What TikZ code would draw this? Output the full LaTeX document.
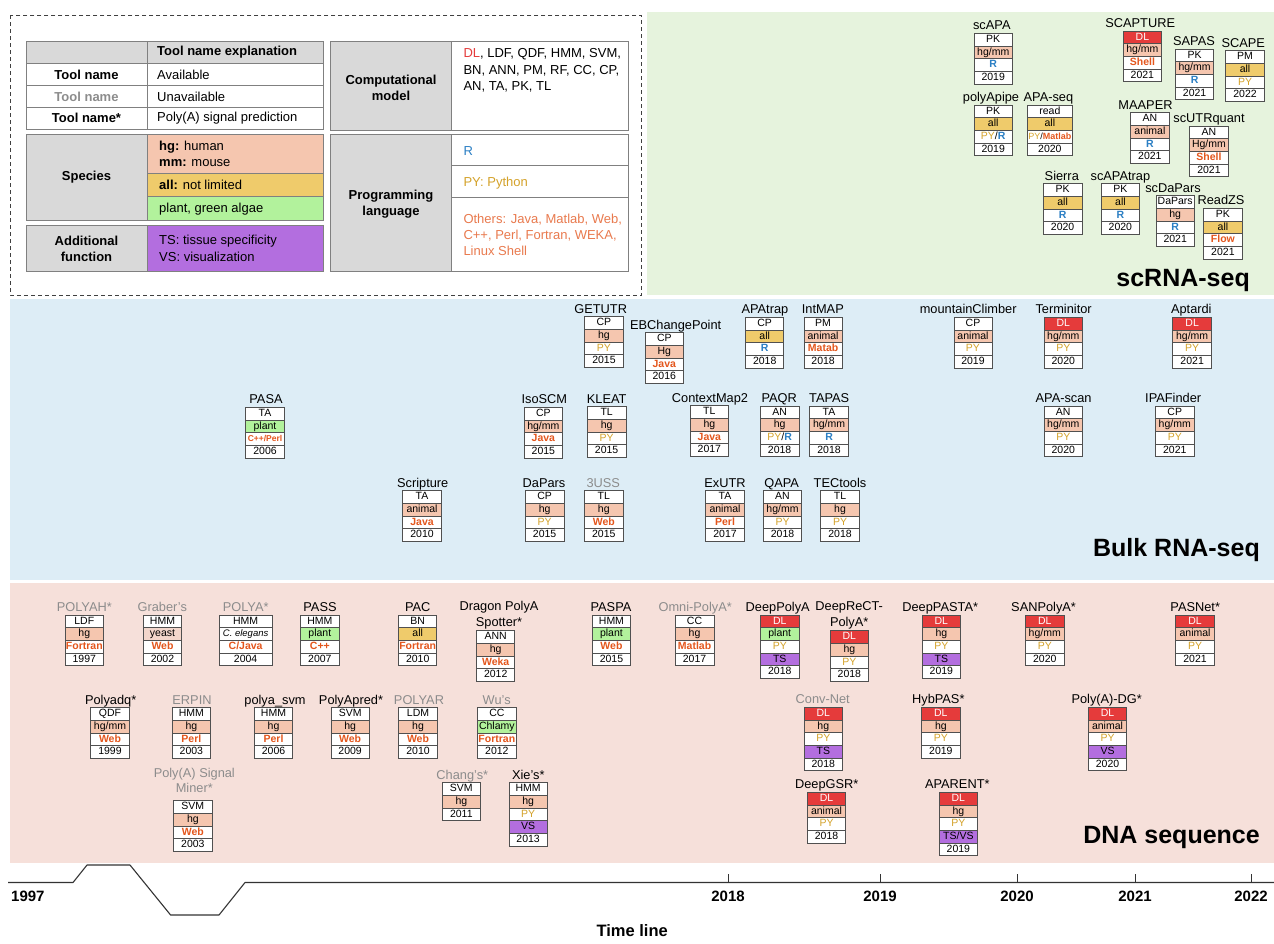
\documentclass[tikz,border=0pt]{standalone}
\usepackage{fontspec}
\setmainfont{Liberation Sans}
\definecolor{cS}{HTML}{F5C6AF}
\definecolor{cA}{HTML}{EFCB6B}
\definecolor{cG}{HTML}{B2F29C}
\definecolor{cP}{HTML}{B36EDF}
\definecolor{cD}{HTML}{E53B3B}
\definecolor{cY}{HTML}{F3D6CB}
\definecolor{cW}{HTML}{FFFFFF}
\definecolor{cpy}{HTML}{D4A22A}
\definecolor{cr}{HTML}{2B7FC4}
\definecolor{cot}{HTML}{E4561C}
\definecolor{cotl}{HTML}{E97A4E}
\definecolor{cgr}{HTML}{8C8C8C}
\definecolor{chd}{HTML}{D9D9D9}
\definecolor{bgsc}{HTML}{E6F3DD}
\definecolor{bgbu}{HTML}{DDEDF6}
\definecolor{bgdn}{HTML}{F6E0DA}
\definecolor{cbd}{HTML}{505050}
\newcommand{\py}[1]{\textcolor{cpy}{#1}}
\newcommand{\rr}[1]{\textcolor{cr}{\bfseries #1}}
\newcommand{\ot}[1]{\textcolor{cot}{\bfseries #1}}
\newcommand{\dl}{\textcolor{white}{DL}}
\newcommand{\tool}[5]{%
  \foreach \f/\t [count=\i] in {#5} {
    \node[cell, fill=\f, minimum width=#4pt] (#1-\i) at ({#2+#4/2},{#3+(\i-0.5)*12.7}) {\t};
  }}
\tikzset{
  cell/.style={draw=cbd, line width=0.7pt, minimum height=12.7pt, inner sep=0pt,
    text height=7.6pt, text depth=2.1pt, font=\fontsize{10.5}{11}\selectfont, text=black},
  lbl/.style={inner sep=0pt, font=\fontsize{12.8}{15.6}\selectfont, anchor=base},
  lblg/.style={lbl, text=cgr},
  lbltwo/.style={inner sep=0pt, font=\fontsize{12.8}{15.6}\selectfont, anchor=south, align=center},
  lcell/.style={draw=black!50, line width=1pt},
  lg/.style={inner sep=0pt, font=\fontsize{13}{16}\selectfont},
  big/.style={inner sep=0pt, font=\fontsize{25}{28}\selectfont\bfseries, anchor=base east},
  yr/.style={inner sep=0pt, font=\fontsize{15}{17}\selectfont\bfseries},
}
\begin{document}
\begin{tikzpicture}[x=1pt,y=-1pt]
\useasboundingbox (0,0) rectangle (1274,943);
% backgrounds
\fill[bgsc] (647,12) rectangle (1274,295);
\fill[bgbu] (10,299) rectangle (1274,580);
\fill[bgdn] (10,583) rectangle (1274,863);
% legend frame
\draw[black!75, line width=1pt, dash pattern=on 4pt off 3pt] (10,15) rectangle (641.7,295);
% table 1
\draw[lcell, fill=chd] (26,41.7) rectangle (147,63.3);
\draw[lcell, fill=chd] (147,41.7) rectangle (323,63.3);
\draw[lcell, fill=white] (26,63.3) rectangle (147,85.7);
\draw[lcell, fill=white] (147,63.3) rectangle (323,85.7);
\draw[lcell, fill=white] (26,85.7) rectangle (147,107.3);
\draw[lcell, fill=white] (147,85.7) rectangle (323,107.3);
\draw[lcell, fill=white] (26,107.3) rectangle (147,129.3);
\draw[lcell, fill=white] (147,107.3) rectangle (323,129.3);
\draw[lcell, fill=chd] (26,134.3) rectangle (147,220.7);
\draw[lcell, fill=cS] (147,134.3) rectangle (323,173.3);
\draw[lcell, fill=cA] (147,173.3) rectangle (323,196.7);
\draw[lcell, fill=cG] (147,196.7) rectangle (323,220.7);
\draw[lcell, fill=chd] (26,225.7) rectangle (147,271.7);
\draw[lcell, fill=cP] (147,225.7) rectangle (323,271.7);
\node[lg, anchor=west] (t1h) at (157,52.5) {\bfseries Tool name explanation};
\node[lg] (t1a) at (86.5,74.5) {\bfseries Tool name};
\node[lg, anchor=west] (t1b) at (157,74.5) {Available};
\node[lg, text=cgr] (t1c) at (86.5,96.5) {\bfseries Tool name};
\node[lg, anchor=west] (t1d) at (157,96.5) {Unavailable};
\node[lg] (t1e) at (86.5,118.3) {\bfseries Tool name*};
\node[lg, anchor=west] (t1f) at (157,118.3) {Poly(A) signal prediction};
\node[lg] (t1g) at (86.5,177.5) {\bfseries Species};
\node[lg, anchor=west] (t1h1) at (159,147.3) {\textbf{hg:} human};
\node[lg, anchor=west] (t1h2) at (159,163.3) {\textbf{mm:} mouse};
\node[lg, anchor=west] (t1i) at (159,185) {\textbf{all:} not limited};
\node[lg, anchor=west] (t1j) at (159,208.7) {plant, green algae};
\node[lg, align=center] (t1k) at (86.5,249) {\bfseries Additional\\\bfseries function};
\node[lg, anchor=west] (t1l) at (159,241) {TS: tissue specificity};
\node[lg, anchor=west] (t1m) at (159,257) {VS: visualization};
% table 2
\draw[lcell, fill=chd] (330,41.7) rectangle (451.7,130);
\draw[lcell, fill=white] (451.7,41.7) rectangle (628.3,130);
\draw[lcell, fill=chd] (330,134.3) rectangle (451.7,271.7);
\draw[lcell, fill=white] (451.7,134.3) rectangle (628.3,165.7);
\draw[lcell, fill=white] (451.7,165.7) rectangle (628.3,197.3);
\draw[lcell, fill=white] (451.7,197.3) rectangle (628.3,271.7);
\node[lg, align=center] (t2a) at (391,87.5) {\bfseries Computational\\\bfseries model};
\node[lg, anchor=west] (t2b1) at (463.3,54.3) {\textcolor{cD}{DL}, LDF, QDF, HMM, SVM,};
\node[lg, anchor=west] (t2b2) at (463.3,70.7) {BN, ANN, PM, RF, CC, CP,};
\node[lg, anchor=west] (t2b3) at (463.3,87.3) {AN, TA, PK, TL};
\node[lg, align=center] (t2c) at (391,204) {\bfseries Programming\\\bfseries language};
\node[lg, anchor=west, text=cr] (t2d) at (463.3,151.3) {R};
\node[lg, anchor=west, text=cpy] (t2e) at (463.3,183) {PY: Python};
\node[lg, anchor=west, text=cotl] (t2f1) at (463.3,220) {Others: Java, Matlab, Web,};
\node[lg, anchor=west, text=cotl] (t2f2) at (463.3,235.7) {C++, Perl, Fortran, WEKA,};
\node[lg, anchor=west, text=cotl] (t2f3) at (463.3,251.3) {Linux Shell};
% ================= scRNA-seq
\tool{scapa}{974}{33.3}{38.4}{cW/PK, cS/{hg/mm}, cW/\rr{R}, cW/2019}
\node[lbl] (scapa) at (991.8,29.8) {scAPA};
\tool{polyapipe}{974}{105}{38.4}{cW/PK, cA/all, cW/{\py{PY}/\rr{R}}, cW/2019}
\node[lbl] (polyapipe) at (991,101.5) {polyApipe};
\tool{apaseq}{1027}{105}{45.7}{cW/read, cA/all, cW/{\fontsize{9}{10}\selectfont\py{PY}/\ot{Matlab}}, cW/2020}
\node[lbl] (apaseq) at (1048.4,101.5) {APA-seq};
\tool{scapture}{1123.2}{31}{38.4}{cD/\dl, cS/{hg/mm}, cW/\ot{Shell}, cW/2021}
\node[lbl] (scapture) at (1140.2,27.5) {SCAPTURE};
\tool{sapas}{1175.4}{49}{38.4}{cW/PK, cS/{hg/mm}, cW/\rr{R}, cW/2021}
\node[lbl] (sapas) at (1194,45.5) {SAPAS};
\tool{scape}{1225.5}{50.7}{39}{cW/PM, cA/all, cW/\py{PY}, cW/2022}
\node[lbl] (scape) at (1243.3,47.2) {SCAPE};
\tool{maaper}{1130.5}{112.7}{38.8}{cW/AN, cS/animal, cW/\rr{R}, cW/2021}
\node[lbl] (maaper) at (1145.5,109.2) {MAAPER};
\tool{scutrquant}{1189.5}{126}{38.9}{cW/AN, cS/{Hg/mm}, cW/\ot{Shell}, cW/2021}
\node[lbl] (scutrquant) at (1209,122.5) {scUTRquant};
\tool{sierra}{1043.2}{183.7}{38.8}{cW/PK, cA/all, cW/\rr{R}, cW/2020}
\node[lbl] (sierra) at (1061.8,180.2) {Sierra};
\tool{scapatrap}{1101}{183.7}{38.8}{cW/PK, cA/all, cW/\rr{R}, cW/2020}
\node[lbl] (scapatrap) at (1120.4,180.2) {scAPAtrap};
\tool{scdapars}{1156}{195.7}{38.4}{cW/DaPars, cS/hg, cW/\rr{R}, cW/2021}
\node[lbl] (scdapars) at (1173,192.2) {scDaPars};
\tool{readzs}{1203.3}{208.3}{39.2}{cW/PK, cA/all, cW/\ot{Flow}, cW/2021}
\node[lbl] (readzs) at (1221,204.8) {ReadZS};
\node[big] (scrna) at (1250,286) {scRNA-seq};
% ================= Bulk RNA-seq
\tool{getutr}{584.3}{316.7}{39.3}{cW/CP, cS/hg, cW/\py{PY}, cW/2015}
\node[lbl] (getutr) at (600.7,313.2) {GETUTR};
\tool{ebchange}{645.3}{332.7}{38}{cW/CP, cS/Hg, cW/\ot{Java}, cW/2016}
\node[lbl] (ebchange) at (675.7,329.2) {EBChangePoint};
\tool{apatrap}{745.8}{317.3}{37.8}{cW/CP, cA/all, cW/\rr{R}, cW/2018}
\node[lbl] (apatrap) at (764.9,313.8) {APAtrap};
\tool{intmap}{804}{317.3}{38.2}{cW/PM, cS/animal, cW/\ot{Matab}, cW/2018}
\node[lbl] (intmap) at (822.8,313.8) {IntMAP};
\tool{mountain}{953.9}{317.3}{38.1}{cW/CP, cS/animal, cW/\py{PY}, cW/2019}
\node[lbl] (mountain) at (968.2,313.8) {mountainClimber};
\tool{terminitor}{1044.2}{317.3}{38.1}{cD/\dl, cS/{hg/mm}, cW/\py{PY}, cW/2020}
\node[lbl] (terminitor) at (1063.6,313.8) {Terminitor};
\tool{aptardi}{1172.6}{317.3}{39.1}{cD/\dl, cS/{hg/mm}, cW/\py{PY}, cW/2021}
\node[lbl] (aptardi) at (1191.3,313.8) {Aptardi};
\tool{pasa}{245.7}{407.3}{38.6}{cW/TA, cG/plant, cW/{\fontsize{8.5}{9}\selectfont\ot{C++/Perl}}, cW/2006}
\node[lbl] (pasa) at (266,403.8) {PASA};
\tool{isoscm}{524}{407.3}{38.7}{cW/CP, cS/{hg/mm}, cW/\ot{Java}, cW/2015}
\node[lbl] (isoscm) at (544.3,403.8) {IsoSCM};
\tool{kleat}{587.3}{406.7}{38.7}{cW/TL, cS/hg, cW/\py{PY}, cW/2015}
\node[lbl] (kleat) at (606.7,403.2) {KLEAT};
\tool{contextmap}{690}{405.7}{38.7}{cW/TL, cS/hg, cW/\ot{Java}, cW/2017}
\node[lbl] (contextmap) at (710,402.2) {ContextMap2};
\tool{paqr}{760.4}{406}{38.5}{cW/AN, cS/hg, cW/{\py{PY}/\rr{R}}, cW/2018}
\node[lbl] (paqr) at (779.2,402.5) {PAQR};
\tool{tapas}{809.8}{406}{38.5}{cW/TA, cS/{hg/mm}, cW/\rr{R}, cW/2018}
\node[lbl] (tapas) at (829.2,402.5) {TAPAS};
\tool{apascan}{1044.2}{406}{38.1}{cW/AN, cS/{hg/mm}, cW/\py{PY}, cW/2020}
\node[lbl] (apascan) at (1063.6,402.5) {APA-scan};
\tool{ipafinder}{1155.5}{406}{38.5}{cW/CP, cS/{hg/mm}, cW/\py{PY}, cW/2021}
\node[lbl] (ipafinder) at (1173.2,402.5) {IPAFinder};
\tool{scripture}{402.3}{490.7}{39.4}{cW/TA, cS/animal, cW/\ot{Java}, cW/2010}
\node[lbl] (scripture) at (422.7,487.2) {Scripture};
\tool{dapars}{525}{490.7}{39.3}{cW/CP, cS/hg, cW/\py{PY}, cW/2015}
\node[lbl] (dapars) at (544,487.2) {DaPars};
\tool{uss}{584.3}{490.7}{39}{cW/TL, cS/hg, cW/\ot{Web}, cW/2015}
\node[lblg] (uss) at (603.3,487.2) {3USS};
\tool{exutr}{705.7}{490.7}{38.6}{cW/TA, cS/animal, cW/\ot{Perl}, cW/2017}
\node[lbl] (exutr) at (725,487.2) {ExUTR};
\tool{qapa}{763.3}{490.7}{38.4}{cW/AN, cS/{hg/mm}, cW/\py{PY}, cW/2018}
\node[lbl] (qapa) at (781.7,487.2) {QAPA};
\tool{tectools}{820.7}{490.7}{38.6}{cW/TL, cS/hg, cW/\py{PY}, cW/2018}
\node[lbl] (tectools) at (840,487.2) {TECtools};
\node[big] (bulk) at (1260,556) {Bulk RNA-seq};
% ================= DNA sequence
\tool{polyah}{65.3}{615}{38}{cW/LDF, cS/hg, cW/\ot{Fortran}, cW/1997}
\node[lblg] (polyah) at (84.3,611.5) {POLYAH*};
\tool{graber}{143.3}{615}{38.4}{cW/HMM, cY/yeast, cW/\ot{Web}, cW/2002}
\node[lblg] (graber) at (162.3,611.5) {Graber's};
\tool{polya}{219}{615}{53.3}{cW/HMM, cW/{\fontsize{9.5}{10}\selectfont\itshape C. elegans}, cW/\ot{C/Java}, cW/2004}
\node[lblg] (polya) at (245.7,611.5) {POLYA*};
\tool{pass}{300.7}{615}{38.3}{cW/HMM, cG/plant, cW/\ot{C++}, cW/2007}
\node[lbl] (pass) at (320,611.5) {PASS};
\tool{pac}{398.7}{615}{38}{cW/BN, cA/all, cW/\ot{Fortran}, cW/2010}
\node[lbl] (pac) at (417.7,611.5) {PAC};
\tool{dragon}{476.7}{630.7}{38}{cW/ANN, cS/hg, cW/\ot{Weka}, cW/2012}
\node[lbltwo] (dragon) at (499,629) {Dragon PolyA\\Spotter*};
\tool{paspa}{592.3}{615}{38.3}{cW/HMM, cG/plant, cW/\ot{Web}, cW/2015}
\node[lbl] (paspa) at (611,611.5) {PASPA};
\tool{omni}{675.2}{615}{38.7}{cW/CC, cS/hg, cW/\ot{Matlab}, cW/2017}
\node[lblg] (omni) at (695.2,611.5) {Omni-PolyA*};
\tool{deeppolya}{760.4}{615}{38.7}{cD/\dl, cG/plant, cW/\py{PY}, cP/TS, cW/2018}
\node[lbl] (deeppolya) at (777.7,611.5) {DeepPolyA};
\tool{deeprect}{830}{630.7}{38.7}{cD/\dl, cS/hg, cW/\py{PY}, cW/2018}
\node[lbltwo] (deeprect) at (849.2,629) {DeepReCT-\\PolyA*};
\tool{deeppasta}{922}{615}{38.7}{cD/\dl, cS/hg, cW/\py{PY}, cP/TS, cW/2019}
\node[lbl] (deeppasta) at (940.2,611.5) {DeepPASTA*};
\tool{sanpolya}{1025.4}{615}{38.7}{cD/\dl, cS/{hg/mm}, cW/\py{PY}, cW/2020}
\node[lbl] (sanpolya) at (1043.6,611.5) {SANPolyA*};
\tool{pasnet}{1175.7}{615}{38.7}{cD/\dl, cS/animal, cW/\py{PY}, cW/2021}
\node[lbl] (pasnet) at (1195.2,611.5) {PASNet*};
\tool{polyadq}{90.7}{707.7}{38.6}{cW/QDF, cS/{hg/mm}, cW/\ot{Web}, cW/1999}
\node[lbl] (polyadq) at (110.7,704.2) {Polyadq*};
\tool{erpin}{172}{707.7}{38.7}{cW/HMM, cS/hg, cW/\ot{Perl}, cW/2003}
\node[lblg] (erpin) at (192,704.2) {ERPIN};
\tool{polyasvm}{254.3}{707.7}{38.4}{cW/HMM, cS/hg, cW/\ot{Perl}, cW/2006}
\node[lbl] (polyasvm) at (275,704.2) {polya\_svm};
\tool{polyapred}{331}{707.7}{38.3}{cW/SVM, cS/hg, cW/\ot{Web}, cW/2009}
\node[lbl] (polyapred) at (351,704.2) {PolyApred*};
\tool{polyar}{398.7}{707.7}{38.6}{cW/LDM, cS/hg, cW/\ot{Web}, cW/2010}
\node[lblg] (polyar) at (419,704.2) {POLYAR};
\tool{wus}{477.7}{707.7}{38.3}{cW/CC, cG/Chlamy, cW/\ot{Fortran}, cW/2012}
\node[lblg] (wus) at (496.7,704.2) {Wu's};
\tool{convnet}{804.3}{707.3}{38}{cD/\dl, cS/hg, cW/\py{PY}, cP/TS, cW/2018}
\node[lblg] (convnet) at (822.7,703.8) {Conv-Net};
\tool{hybpas}{921.7}{707.3}{38.3}{cD/\dl, cS/hg, cW/\py{PY}, cW/2019}
\node[lbl] (hybpas) at (938.3,703.8) {HybPAS*};
\tool{polyadg}{1088.3}{707.3}{38.4}{cD/\dl, cS/animal, cW/\py{PY}, cP/VS, cW/2020}
\node[lbl] (polyadg) at (1106.7,703.8) {Poly(A)-DG*};
\tool{signalminer}{173.7}{800.7}{38.3}{cW/SVM, cS/hg, cW/\ot{Web}, cW/2003}
\node[lbltwo, text=cgr] (signalminer) at (194.3,793) {Poly(A) Signal\\Miner*};
\tool{changs}{442}{782.7}{38.7}{cW/SVM, cS/hg, cW/2011}
\node[lblg] (changs) at (462.3,779.2) {Chang's*};
\tool{xies}{509}{782.7}{38.3}{cW/HMM, cS/hg, cW/\py{PY}, cP/VS, cW/2013}
\node[lbl] (xies) at (528.3,779.2) {Xie's*};
\tool{deepgsr}{807.3}{792.3}{38.4}{cD/\dl, cS/animal, cW/\py{PY}, cW/2018}
\node[lbl] (deepgsr) at (826.7,788.8) {DeepGSR*};
\tool{aparent}{939}{792.3}{38.7}{cD/\dl, cS/hg, cW/\py{PY}, cP/{TS/VS}, cW/2019}
\node[lbl] (aparent) at (957.3,788.8) {APARENT*};
\node[big] (dna) at (1260,843.5) {DNA sequence};
% ================= time line
\draw[black!80, line width=1.1pt, line join=round] (8,882.5) -- (73,882.5) -- (87,865) -- (130,865) -- (170.6,915) -- (219,915) -- (245,882.5) -- (1274,882.5);
\foreach \x/\y [count=\k] in {728/2018, 880/2019, 1017/2020, 1135/2021, 1251/2022} {
  \draw[black!80, line width=1pt] (\x,874) -- (\x,882.5);
  \node[yr] (yr\k) at (\x,896) {\y};
}
\node[yr, anchor=west] (yr0) at (11,896) {1997};
\node[inner sep=0pt, font=\fontsize{16.5}{18}\selectfont\bfseries, anchor=east] (tl) at (668,931) {Time line};
\end{tikzpicture}
\end{document}
